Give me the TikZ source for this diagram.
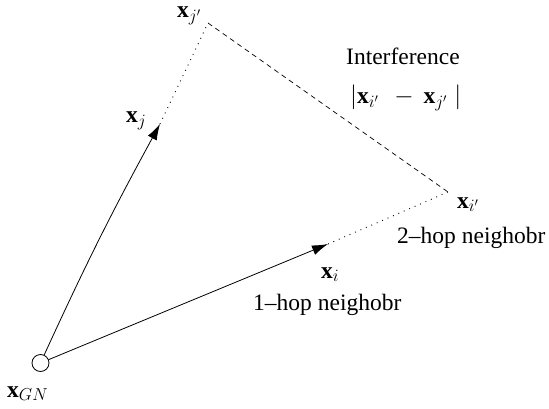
\documentclass[tikz,border=0pt]{standalone}
\usepackage{fontspec}
\setmainfont{Liberation Serif}
\usetikzlibrary{arrows.meta}
\begin{document}
\begin{tikzpicture}[x=1pt,y=-1pt,
  lab/.style={font=\fontsize{23.5}{27}\selectfont, inner sep=0pt, anchor=base west},
  link/.style={line width=0.8pt, -{Latex[length=16pt,width=10pt]}},
  dotlink/.style={line width=0.9pt, dash pattern=on 0.9pt off 5pt},
  dashlink/.style={line width=0.7pt, dash pattern=on 5pt off 4pt}]
\useasboundingbox (0,0) rectangle (549,409);
\node[circle, draw, line width=0.8pt, minimum size=17pt, inner sep=0pt] (gn) at (40.5,363) {};
\coordinate (xj) at (160,124);
\coordinate (xjp) at (208,23);
\coordinate (xi) at (328,244);
\coordinate (xip) at (448,192);
\draw[link] (gn) to[bend left=2] (xj);
\draw[link] (gn) -- (xi);
\draw[dotlink] (xj) -- (xjp);
\draw[dotlink] (xi) -- (xip);
\draw[dashlink] (xjp) -- (xip);
\node[lab] (lgn) at (7,397) {$\mathbf{x}_{GN}$};
\node[lab] (lj) at (126,123) {$\mathbf{x}_{j}$};
\node[lab] (ljp) at (177,18) {$\mathbf{x}_{j'}$};
\node[lab] (li) at (321,278) {$\mathbf{x}_{i}$};
\node[lab] (lip) at (457,208) {$\mathbf{x}_{i'}$};
\node[lab] (hop2) at (397,243) {2--hop neighobr};
\node[lab] (hop1) at (253,310) {1--hop neighobr};
\node[lab] (intf) at (346,65) {Interference};
\node[lab] (dist) at (350,104) {$\Bigl|\mathbf{x}_{i'}\ \,-\,\mathbf{x}_{j'}\;\Bigr|$};
\end{tikzpicture}
\end{document}
